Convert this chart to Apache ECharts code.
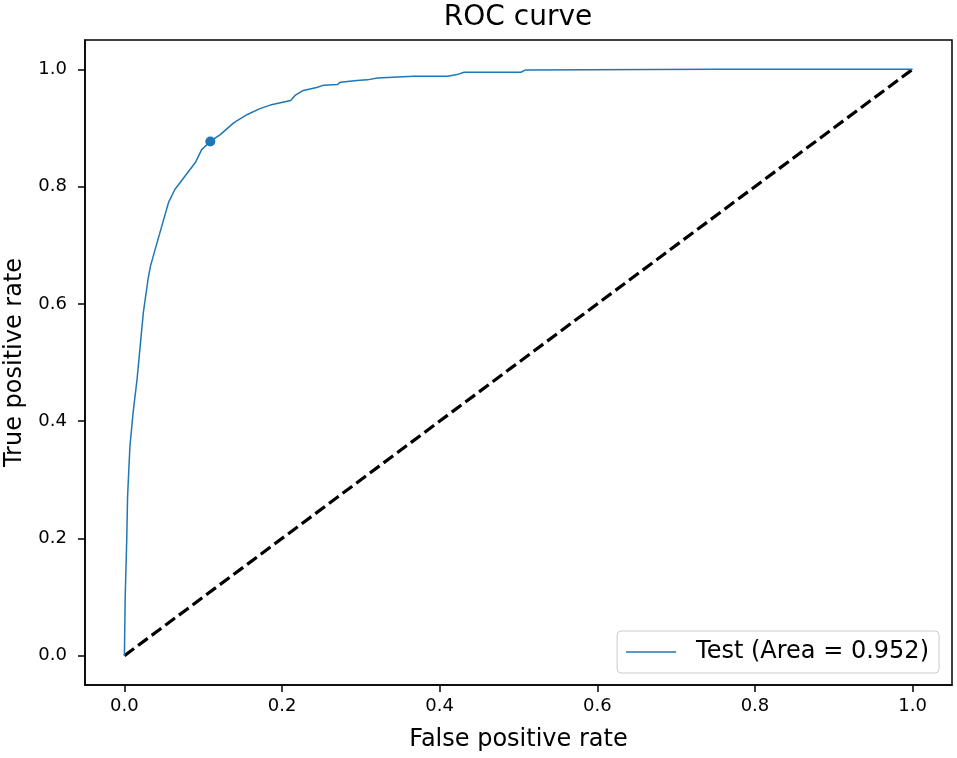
<!DOCTYPE html>
<html>
<head>
<meta charset="utf-8">
<script src="https://cdn.jsdelivr.net/npm/echarts@6/dist/echarts.min.js"></script>
<style>
  html, body { margin: 0; padding: 0; background: #fff; }
  #main { width: 957px; height: 758px; }
</style>
</head>
<body>
<div id="main"></div>
<script>
// ROC curve points
var fpr = [0, 0.001, 0.003, 0.004, 0.005, 0.007, 0.011, 0.016, 0.020, 0.024, 0.030, 0.033,
    0.039, 0.0475, 0.056, 0.064, 0.077, 0.090, 0.098, 0.109, 0.122, 0.139, 0.156, 0.172,
    0.185, 0.211, 0.217, 0.227, 0.244, 0.253, 0.270, 0.274, 0.295, 0.308, 0.321, 0.367,
    0.410, 0.422, 0.431, 0.503, 0.509, 0.75, 1.0];
var tpr = [0, 0.10, 0.20, 0.27, 0.30, 0.357, 0.414, 0.471, 0.528, 0.585, 0.642, 0.664,
    0.693, 0.733, 0.773, 0.795, 0.818, 0.841, 0.863, 0.877, 0.889, 0.909, 0.923, 0.933,
    0.939, 0.947, 0.956, 0.964, 0.969, 0.973, 0.974, 0.978, 0.981, 0.982, 0.985, 0.988,
    0.988, 0.991, 0.995, 0.995, 0.999, 1.0, 1.0];

// operating point marker
var pointFpr = [0.109];
var pointTpr = [0.877];

// chance line
var diagX = [0, 1];
var diagY = [0, 1];

var xTicks = [0, 0.2, 0.4, 0.6, 0.8, 1.0];
var yTicks = [0, 0.2, 0.4, 0.6, 0.8, 1.0];

var legendName = 'Test (Area = 0.952)';

function zip(a, b) {
    return a.map(function (v, i) { return [v, b[i]]; });
}

var chart = echarts.init(document.getElementById('main'));
var font = 'DejaVu Sans';

var axisCommon = {
    type: 'value',
    min: -0.05,
    max: 1.05,
    nameLocation: 'middle',
    nameTextStyle: { fontFamily: font, fontSize: 24, color: '#000' },
    axisLine: { show: true, onZero: false, lineStyle: { color: '#000', width: 1.5 } },
    axisTick: { show: true, inside: false, length: 7, lineStyle: { color: '#000', width: 1.5 } },
    splitLine: { show: false }
};

var option = {
    backgroundColor: '#fff',
    animation: false,
    title: {
        text: 'ROC curve',
        left: 518,
        top: 4,
        padding: 0,
        textAlign: 'center',
        textStyle: { fontFamily: font, fontSize: 28, fontWeight: 'normal', color: '#000' }
    },
    grid: {
        left: 85, right: 5, top: 40, bottom: 73,
        outerBoundsMode: 'none',
        containLabel: false,
        show: true, borderColor: '#000', borderWidth: 1.5, backgroundColor: 'transparent'
    },
    legend: {
        data: [{ name: legendName, icon: 'rect' }],
        right: 18,
        bottom: 85,
        itemWidth: 50,
        itemHeight: 1.5,
        padding: [9, 10, 9, 9],
        backgroundColor: 'rgba(255,255,255,0.8)',
        borderColor: '#cccccc',
        borderWidth: 1,
        borderRadius: 4,
        textStyle: { fontFamily: font, fontSize: 24, color: '#000', padding: [0, 0, 0, 15] }
    },
    xAxis: Object.assign({}, axisCommon, {
        name: 'False positive rate',
        nameGap: 43,
        axisTick: Object.assign({}, axisCommon.axisTick, { customValues: xTicks }),
        axisLabel: {
            customValues: xTicks,
            margin: 12,
            fontFamily: font, fontSize: 18, color: '#000',
            formatter: function (v) { return v.toFixed(1); }
        }
    }),
    yAxis: Object.assign({}, axisCommon, {
        name: 'True positive rate',
        nameGap: 58,
        axisTick: Object.assign({}, axisCommon.axisTick, { customValues: yTicks }),
        axisLabel: {
            customValues: yTicks,
            margin: 18,
            fontFamily: font, fontSize: 18, color: '#000',
            formatter: function (v) { return v.toFixed(1); }
        }
    }),
    series: [
        {
            name: legendName,
            type: 'line',
            data: zip(fpr, tpr),
            showSymbol: false,
            symbol: 'none',
            color: '#1f77b4',
            lineStyle: { color: '#1f77b4', width: 1.5 },
            z: 3
        },
        {
            name: 'chance',
            type: 'line',
            data: zip(diagX, diagY),
            showSymbol: false,
            symbol: 'none',
            lineStyle: { color: '#000', width: 3.2, type: [12, 5] },
            z: 2
        },
        {
            name: 'point',
            type: 'scatter',
            data: zip(pointFpr, pointTpr),
            symbol: 'circle',
            symbolSize: 10,
            itemStyle: { color: '#1f77b4', opacity: 1 },
            z: 4
        }
    ]
};

chart.setOption(option);
</script>
</body>
</html>
